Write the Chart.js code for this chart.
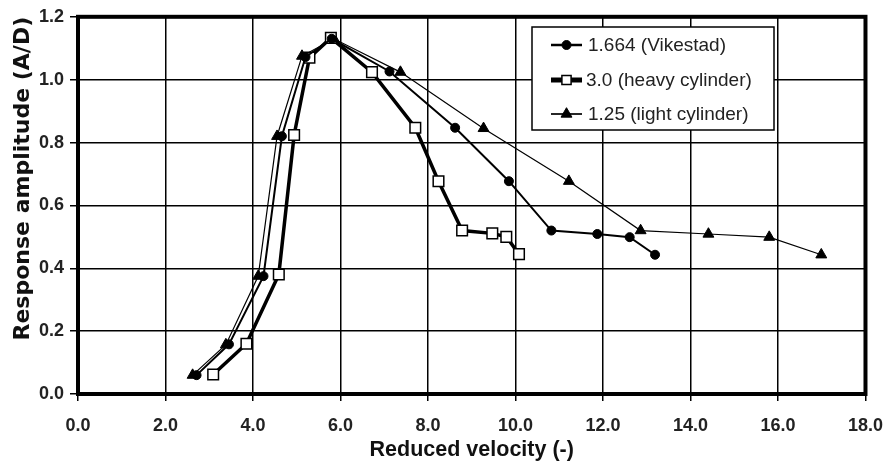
<!DOCTYPE html>
<html><head><meta charset="utf-8">
<script src="https://cdn.jsdelivr.net/npm/chart.js@4/dist/chart.umd.min.js"></script>
<style>html,body{margin:0;padding:0;background:#fff;} #c{display:block;}</style>
</head><body>
<canvas id="c" width="887" height="470"></canvas>
<script>
// ---- data ----
const vikestadX = [2.71, 3.45, 4.24, 4.66, 5.20, 5.80, 7.12, 8.62, 9.85, 10.82, 11.87, 12.61, 13.19];
const vikestadY = [0.060, 0.158, 0.375, 0.820, 1.072, 1.130, 1.026, 0.847, 0.677, 0.520, 0.509, 0.499, 0.443];
const heavyX = [3.09, 3.85, 4.59, 4.94, 5.29, 5.78, 6.72, 7.71, 8.24, 8.78, 9.47, 9.79, 10.08];
const heavyY = [0.062, 0.160, 0.380, 0.824, 1.070, 1.133, 1.024, 0.847, 0.677, 0.520, 0.511, 0.500, 0.445];
const lightX = [2.62, 3.38, 4.12, 4.55, 5.12, 5.85, 7.37, 9.27, 11.22, 12.86, 14.41, 15.80, 16.99];
const lightY = [0.060, 0.157, 0.375, 0.820, 1.075, 1.130, 1.024, 0.845, 0.677, 0.520, 0.509, 0.499, 0.443];
const seriesNames = ['1.664 (Vikestad)', '3.0 (heavy cylinder)', '1.25 (light cylinder)'];
const xTickLabels = ['0.0','2.0','4.0','6.0','8.0','10.0','12.0','14.0','16.0','18.0'];
const yTickLabels = ['0.0','0.2','0.4','0.6','0.8','1.0','1.2'];
const xTitle = 'Reduced velocity (-)';
const yTitle = 'Response amplitude (A/D)';

const toPts = (xs, ys) => xs.map((x, i) => ({x: x, y: ys[i]}));

const styles = [
  {lineWidth: 2, pointStyle: 'circle', radius: 4.5, fill: '#000', pbw: 1},
  {lineWidth: 3.5, pointStyle: 'rect', radius: 7.5, fill: '#fff', pbw: 1.5},
  {lineWidth: 1.2, pointStyle: 'triangle', radius: 6.3, fill: '#000', pbw: 1}
];

const framePlugin = {
  id: 'frame',
  beforeDatasetsDraw(chart) {
    const {ctx, chartArea: a} = chart;
    ctx.save();
    ctx.strokeStyle = '#000';
    ctx.lineWidth = 4;
    ctx.strokeRect(a.left, a.top, a.right - a.left, a.bottom - a.top);
    ctx.restore();
  }
};

function drawMarker(ctx, st, x, y) {
  ctx.save();
  ctx.fillStyle = st.fill;
  ctx.strokeStyle = '#000';
  ctx.lineWidth = st.pbw;
  ctx.beginPath();
  if (st.pointStyle === 'circle') {
    ctx.arc(x, y, st.radius, 0, Math.PI * 2);
  } else if (st.pointStyle === 'rect') {
    const s = st.radius * Math.SQRT1_2;
    ctx.rect(x - s, y - s, 2 * s, 2 * s);
  } else {
    const r = st.radius;
    ctx.moveTo(x, y - r);
    ctx.lineTo(x + r * Math.sin(2 * Math.PI / 3), y - r * Math.cos(2 * Math.PI / 3));
    ctx.lineTo(x + r * Math.sin(4 * Math.PI / 3), y - r * Math.cos(4 * Math.PI / 3));
    ctx.closePath();
  }
  ctx.fill();
  ctx.stroke();
  ctx.restore();
}

const legendPlugin = {
  id: 'boxLegend',
  afterDatasetsDraw(chart) {
    const ctx = chart.ctx;
    const bx = 532, by = 27, bw = 242, bh = 103;
    ctx.save();
    ctx.fillStyle = '#fff';
    ctx.fillRect(bx, by, bw, bh);
    ctx.strokeStyle = '#000';
    ctx.lineWidth = 1.5;
    ctx.strokeRect(bx, by, bw, bh);
    const rows = [45, 80, 114];
    seriesNames.forEach((name, i) => {
      const st = styles[i];
      const y = rows[i];
      ctx.strokeStyle = '#000';
      ctx.lineWidth = i === 1 ? 5 : st.lineWidth + 0.5;
      ctx.beginPath();
      ctx.moveTo(551, y);
      ctx.lineTo(582, y);
      ctx.stroke();
      drawMarker(ctx, i === 1 ? Object.assign({}, st, {radius: 6.5}) : st, 566.5, y);
      ctx.fillStyle = '#222';
      ctx.font = '19px "Liberation Sans", Arial, sans-serif';
      ctx.textBaseline = 'middle';
      ctx.textAlign = 'left';
      ctx.fillText(name, i === 1 ? 586 : 588, y + 1);
    });
    ctx.restore();
  }
};

const datasets = [
  {label: seriesNames[0], data: toPts(vikestadX, vikestadY)},
  {label: seriesNames[1], data: toPts(heavyX, heavyY)},
  {label: seriesNames[2], data: toPts(lightX, lightY)}
].map((d, i) => Object.assign(d, {
  showLine: true,
  borderColor: '#000',
  borderWidth: styles[i].lineWidth,
  pointStyle: styles[i].pointStyle,
  pointRadius: styles[i].radius,
  pointBackgroundColor: styles[i].fill,
  pointBorderColor: '#000',
  pointBorderWidth: styles[i].pbw,
  tension: 0,
  clip: false
}));

const xTickFont = {family: '"Liberation Sans", Arial, sans-serif', size: 18, weight: 'bold', lineHeight: 2.33};
const yTickFont = {family: '"Liberation Sans", Arial, sans-serif', size: 18, weight: 'bold'};

new Chart(document.getElementById('c'), {
  type: 'scatter',
  data: {datasets: datasets},
  plugins: [framePlugin, legendPlugin],
  options: {
    responsive: false,
    animation: false,
    devicePixelRatio: 1,
    layout: {padding: {top: 13, right: 16, left: 0, bottom: 0}},
    plugins: {legend: {display: false}, tooltip: {enabled: false}},
    scales: {
      x: {
        type: 'linear', min: 0, max: 18,
        afterFit: s => { s.height = 76; },
        ticks: {
          stepSize: 2, autoSkip: false, maxRotation: 0, padding: 4,
          color: '#222', font: xTickFont,
          callback: v => xTickLabels[Math.round(v / 2)] ?? ''
        },
        grid: {color: '#000', lineWidth: 1.5, tickLength: 7, tickWidth: 1.5, tickColor: '#000'},
        border: {display: false},
        title: {
          display: true, text: xTitle, color: '#111',
          font: {family: '"Liberation Sans", Arial, sans-serif', size: 21.5, weight: 'bold'},
          padding: {top: 4, bottom: 7}
        }
      },
      y: {
        type: 'linear', min: 0, max: 1.2,
        afterFit: s => { s.width = 78; },
        ticks: {
          stepSize: 0.2, autoSkip: false, padding: 6,
          color: '#222', font: yTickFont,
          callback: v => yTickLabels[Math.round(v / 0.2)] ?? ''
        },
        grid: {color: '#000', lineWidth: 1.5, tickLength: 8, tickWidth: 1.5, tickColor: '#000'},
        border: {display: false},
        title: {
          display: true, text: yTitle, color: '#111', align: 'end',
          font: {family: '"DejaVu Sans", sans-serif', size: 22, weight: 'bold'},
          padding: {top: 10, bottom: 0}
        }
      }
    }
  }
});
</script>
</body></html>
